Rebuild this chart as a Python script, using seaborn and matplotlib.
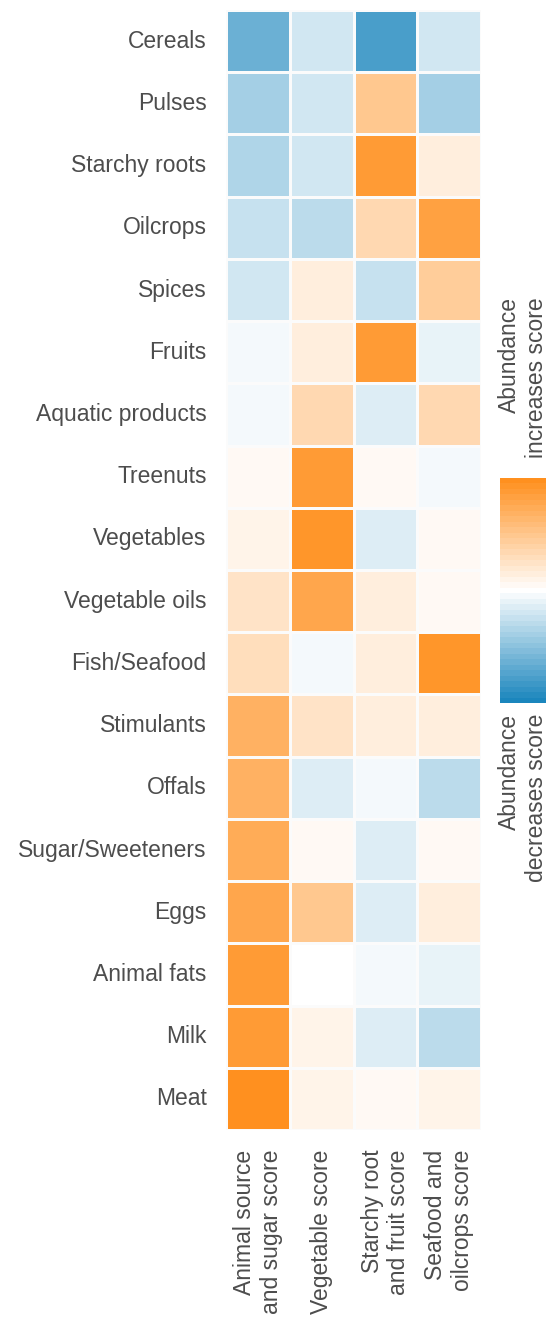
import numpy as np
import pandas as pd
import seaborn as sns
import matplotlib
matplotlib.use("Agg")
import matplotlib.pyplot as plt
from matplotlib.colors import LinearSegmentedColormap

foods = ["Cereals", "Pulses", "Starchy roots", "Oilcrops", "Spices", "Fruits",
         "Aquatic products", "Treenuts", "Vegetables", "Vegetable oils",
         "Fish/Seafood", "Stimulants", "Offals", "Sugar/Sweeteners", "Eggs",
         "Animal fats", "Milk", "Meat"]
scores = ["Animal source\nand sugar score", "Vegetable score",
          "Starchy root\nand fruit score", "Seafood and\noilcrops score"]

animal_sugar = [-0.65, -0.39, -0.35, -0.26, -0.21, -0.07, -0.06, 0.04, 0.12,
                0.22, 0.27, 0.68, 0.70, 0.74, 0.78, 0.90, 0.88, 0.97]
vegetable = [-0.18, -0.20, -0.20, -0.30, 0.14, 0.15, 0.32, 0.87, 0.92, 0.80,
             -0.04, 0.25, -0.15, 0.05, 0.48, 0.02, 0.10, 0.12]
starchy_fruit = [-0.79, 0.48, 0.88, 0.33, -0.22, 0.88, -0.14, 0.03, -0.13,
                 0.14, 0.17, 0.14, -0.04, -0.15, -0.14, -0.06, -0.15, 0.03]
seafood_oilcrops = [-0.18, -0.39, 0.14, 0.85, 0.45, -0.08, 0.33, -0.05, 0.04,
                    0.03, 0.95, 0.17, -0.27, 0.04, 0.14, -0.12, -0.27, 0.10]

df = pd.DataFrame({scores[0]: animal_sugar, scores[1]: vegetable,
                   scores[2]: starchy_fruit, scores[3]: seafood_oilcrops},
                  index=foods)

sns.set_theme(style="white")
plt.rcParams['font.family'] = ['Liberation Sans', 'DejaVu Sans']

cmap = LinearSegmentedColormap.from_list(
    "abund", ["#1b86bd", "#ffffff", "#ff901f"], N=41)

W, H = 549, 1319
fig = plt.figure(figsize=(W / 100, H / 100), dpi=100)
ax = fig.add_axes([226 / W, 1 - 1130 / H, 255 / W, 1120 / H])
cax = fig.add_axes([500 / W, 1 - 703 / H, 46 / W, 225 / H])

sns.heatmap(df, ax=ax, cbar_ax=cax, cmap=cmap, vmin=-1, vmax=1,
            linewidths=1, linecolor="#fbfbfb",
            cbar_kws={"ticks": [-0.96, 0.96]})

txt_col = "#4d4d4d"
fs = 16.5
ax.set_yticklabels(foods, rotation=0, fontsize=fs, color=txt_col)
ax.set_xticklabels(scores, rotation=90, fontsize=fs, color=txt_col,
                   ha="center", va="top", multialignment="right")
ax.tick_params(axis="both", length=0)
ax.tick_params(axis="y", pad=14)
ax.tick_params(axis="x", pad=14)
ax.set_xlabel("")
ax.set_ylabel("")

cax.tick_params(left=True, right=True, direction="in", length=5, width=1.2,
                colors="#fde3c8", labelright=False, labelleft=False)
for s in cax.spines.values():
    s.set_visible(False)
cbar = ax.collections[0].colorbar
cbar.outline.set_visible(False)

cx = 523 / W
fig.text(cx, 1 - 458 / H, "Abundance\nincreases score", rotation=90,
         ha="center", va="bottom", multialignment="right",
         fontsize=fs, color=txt_col)
fig.text(cx, 1 - 714 / H, "Abundance\ndecreases score", rotation=90,
         ha="center", va="top", multialignment="right",
         fontsize=fs, color=txt_col)

fig.savefig("out.png", dpi=100, facecolor="white")
